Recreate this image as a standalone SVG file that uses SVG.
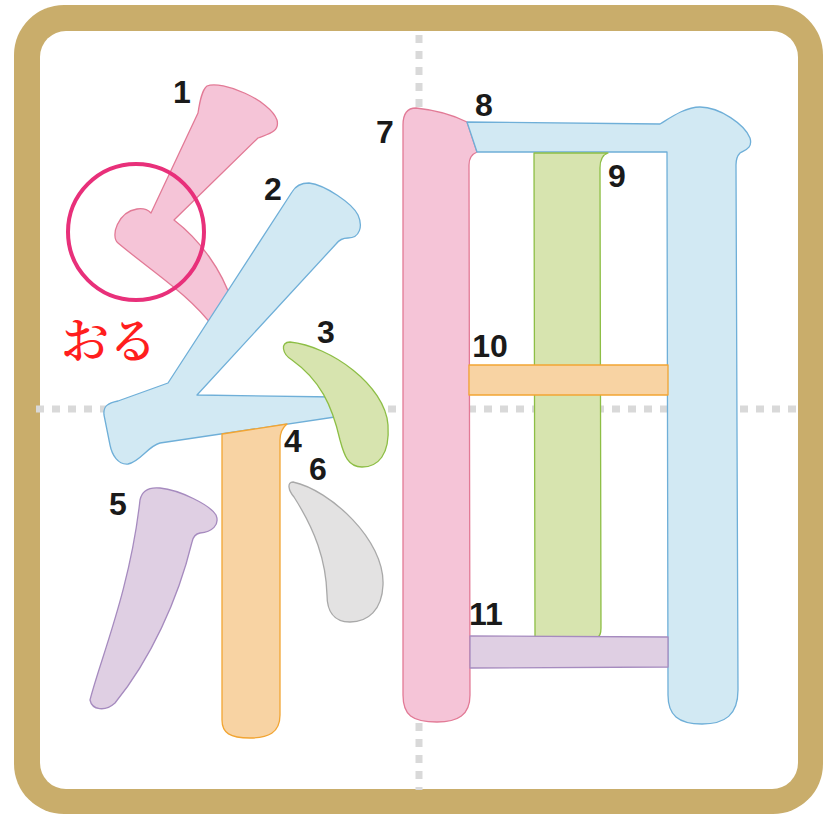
<svg xmlns="http://www.w3.org/2000/svg" width="839" height="816" viewBox="0 0 839 816">
<style>
.num{font-family:"Liberation Sans",Arial,sans-serif;font-weight:bold;font-size:32px;fill:#1a1a1a;text-anchor:middle}
.s{stroke-width:1.3;stroke-linejoin:round}
.pink{fill:#F5C4D7;stroke:#E27A96}
.blue{fill:#D2E9F3;stroke:#6FAFD8}
.green{fill:#D7E4AF;stroke:#8DBE45}
.orange{fill:#F8D3A3;stroke:#F2A533}
.purple{fill:#DFCFE3;stroke:#A68BBF}
.gray{fill:#E3E2E2;stroke:#A9A9A9}
.grid{stroke:#D9D9D9;stroke-width:7;stroke-dasharray:8 8;fill:none}
</style>
<rect x="0" y="0" width="839" height="816" fill="#ffffff"/>
<rect x="14" y="5" width="809" height="809" rx="50" fill="#C9AD6B"/>
<rect x="40" y="31" width="758" height="758" rx="26" fill="#ffffff"/>
<g id="grid">
<line class="grid" x1="36" y1="409" x2="800" y2="409"/>
<line class="grid" x1="419" y1="35" x2="419" y2="790"/>
</g>
<g id="strokes">
<g id="s1"><path class="s pink" d="M207,86 C222,80 270,100 277,120 C280,132 268,134 258,138 L174,220 C200,240 222,270 232,302 L214,328 C190,295 150,270 118,243 C110,236 118,212 137,209 C143,208 148,210 151,213 L198,113 C200,100 202,90 207,86 Z"/></g>
<g id="s2"><path class="s blue" d="M292,192 C296,185 302,183 309,183 C325,185 352,203 358,215 C363,226 360,238 348,238 C342,238 339,240 336,244 L197,395 L335,397 L335,417 L160,443 C148,446 140,462 128,464 C118,465 112,455 110,445 L104,415 C103,406 108,403 118,401 L168,383 Z"/></g>
<g id="s3"><path class="s green" d="M290,342 C330,346 385,385 388,425 C390,455 378,467 362,467 C348,467 344,455 340,440 C332,405 320,380 292,360 C282,354 280,342 290,342 Z"/></g>
<g id="s4"><path class="s orange" d="M222,434 L287,424 C282,428 280,432 280,440 L280,715 C280,733 268,738 250,738 C230,738 222,733 222,720 Z"/></g>
<g id="s5"><path class="s purple" d="M140,500 C142,490 150,487 160,488 C180,490 210,505 216,515 C220,525 212,532 200,533 C195,534 193,537 192,542 C178,600 150,660 115,703 C105,712 92,710 90,700 C100,660 130,590 140,500 Z"/></g>
<g id="s6"><path class="s gray" d="M293,482 C330,490 385,540 383,585 C382,610 368,622 350,622 C333,622 327,610 327,595 C326,560 315,530 294,497 C288,490 287,482 293,482 Z"/></g>
<g id="s7"><path class="s pink" d="M403,125 C403,113 408,108 416,108 C435,110 455,116 467,122 L477,152 C472,154 469,158 469,165 L470,695 C470,715 458,722 437,722 C412,722 403,715 403,695 Z"/></g>
<g id="s8"><path class="s blue" d="M467,122 L660,124 C670,118 685,107 700,107 C720,107 745,125 750,138 C753,148 745,150 740,153 C737,156 736,160 736,165 L738,690 C738,715 725,724 702,724 C678,724 668,715 668,695 L667,152 L477,152 Z"/></g>
<g id="s9"><path class="s green" d="M534,153 L608,153 C602,155 600,160 600,168 L601,628 C601,634 599,637 597,637 L535,637 Z"/></g>
<g id="s10"><rect class="s orange" x="469" y="365" width="199" height="30"/></g>
<g id="s11"><path class="s purple" d="M470,636 L668,637 L668,667 L470,668 Z"/></g>
</g>
<g id="labels">
<text class="num" x="182" y="103">1</text>
<text class="num" x="273" y="200">2</text>
<text class="num" x="326" y="343">3</text>
<text class="num" x="293" y="452">4</text>
<text class="num" x="118" y="515">5</text>
<text class="num" x="318" y="480">6</text>
<text class="num" x="385" y="143">7</text>
<text class="num" x="484" y="116">8</text>
<text class="num" x="617" y="187">9</text>
<text class="num" x="490" y="357">10</text>
<text class="num" x="486" y="625">11</text>
</g>
<g id="marker">
<circle cx="136" cy="232" r="68" fill="none" stroke="#E8307A" stroke-width="4"/>
<text x="61" y="358" font-family="'Noto Serif CJK JP','Noto Sans CJK JP',serif" font-weight="600" font-size="48" fill="#FF1E1E">おる</text>
</g>
</svg>
